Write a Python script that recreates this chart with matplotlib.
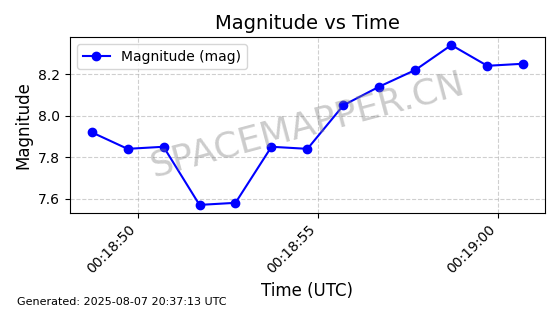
import matplotlib
matplotlib.use("Agg")
import matplotlib.pyplot as plt
import matplotlib.dates as mdates
import pandas as pd

times = pd.to_datetime([
    "2025-08-07 00:18:48.7", "2025-08-07 00:18:49.7", "2025-08-07 00:18:50.7",
    "2025-08-07 00:18:51.7", "2025-08-07 00:18:52.7", "2025-08-07 00:18:53.7",
    "2025-08-07 00:18:54.7", "2025-08-07 00:18:55.7", "2025-08-07 00:18:56.7",
    "2025-08-07 00:18:57.7", "2025-08-07 00:18:58.7", "2025-08-07 00:18:59.7",
    "2025-08-07 00:19:00.7",
])
magnitude = [7.92, 7.84, 7.85, 7.57, 7.58, 7.85, 7.84, 8.05, 8.14, 8.22, 8.34, 8.24, 8.25]

fig, ax = plt.subplots(figsize=(5.6, 3.14), dpi=100)
fig.subplots_adjust(left=0.125, right=0.973, top=0.882, bottom=0.322)

ax.plot(times, magnitude, marker="o", color="blue", linestyle="-", label="Magnitude (mag)")
ax.set_title("Magnitude vs Time", fontsize=14)
ax.set_xlabel("Time (UTC)", fontsize=12)
ax.set_ylabel("Magnitude", fontsize=12)
ax.grid(True, linestyle="--", alpha=0.6)
ax.legend(loc="upper left")
ax.xaxis.set_major_locator(mdates.SecondLocator(bysecond=range(0, 60, 5)))
ax.xaxis.set_major_formatter(mdates.DateFormatter("%H:%M:%S"))
plt.setp(ax.get_xticklabels(), rotation=45, ha="right")

ax.text(0.5, 0.5, "SPACEMAPPER.CN", transform=ax.transAxes, fontsize=26,
        color="gray", alpha=0.4, rotation=15, ha="center", va="center")

fig.text(0.03, 0.03, "Generated: 2025-08-07 20:37:13 UTC", fontsize=8)

fig.savefig("out.png", dpi=100)
